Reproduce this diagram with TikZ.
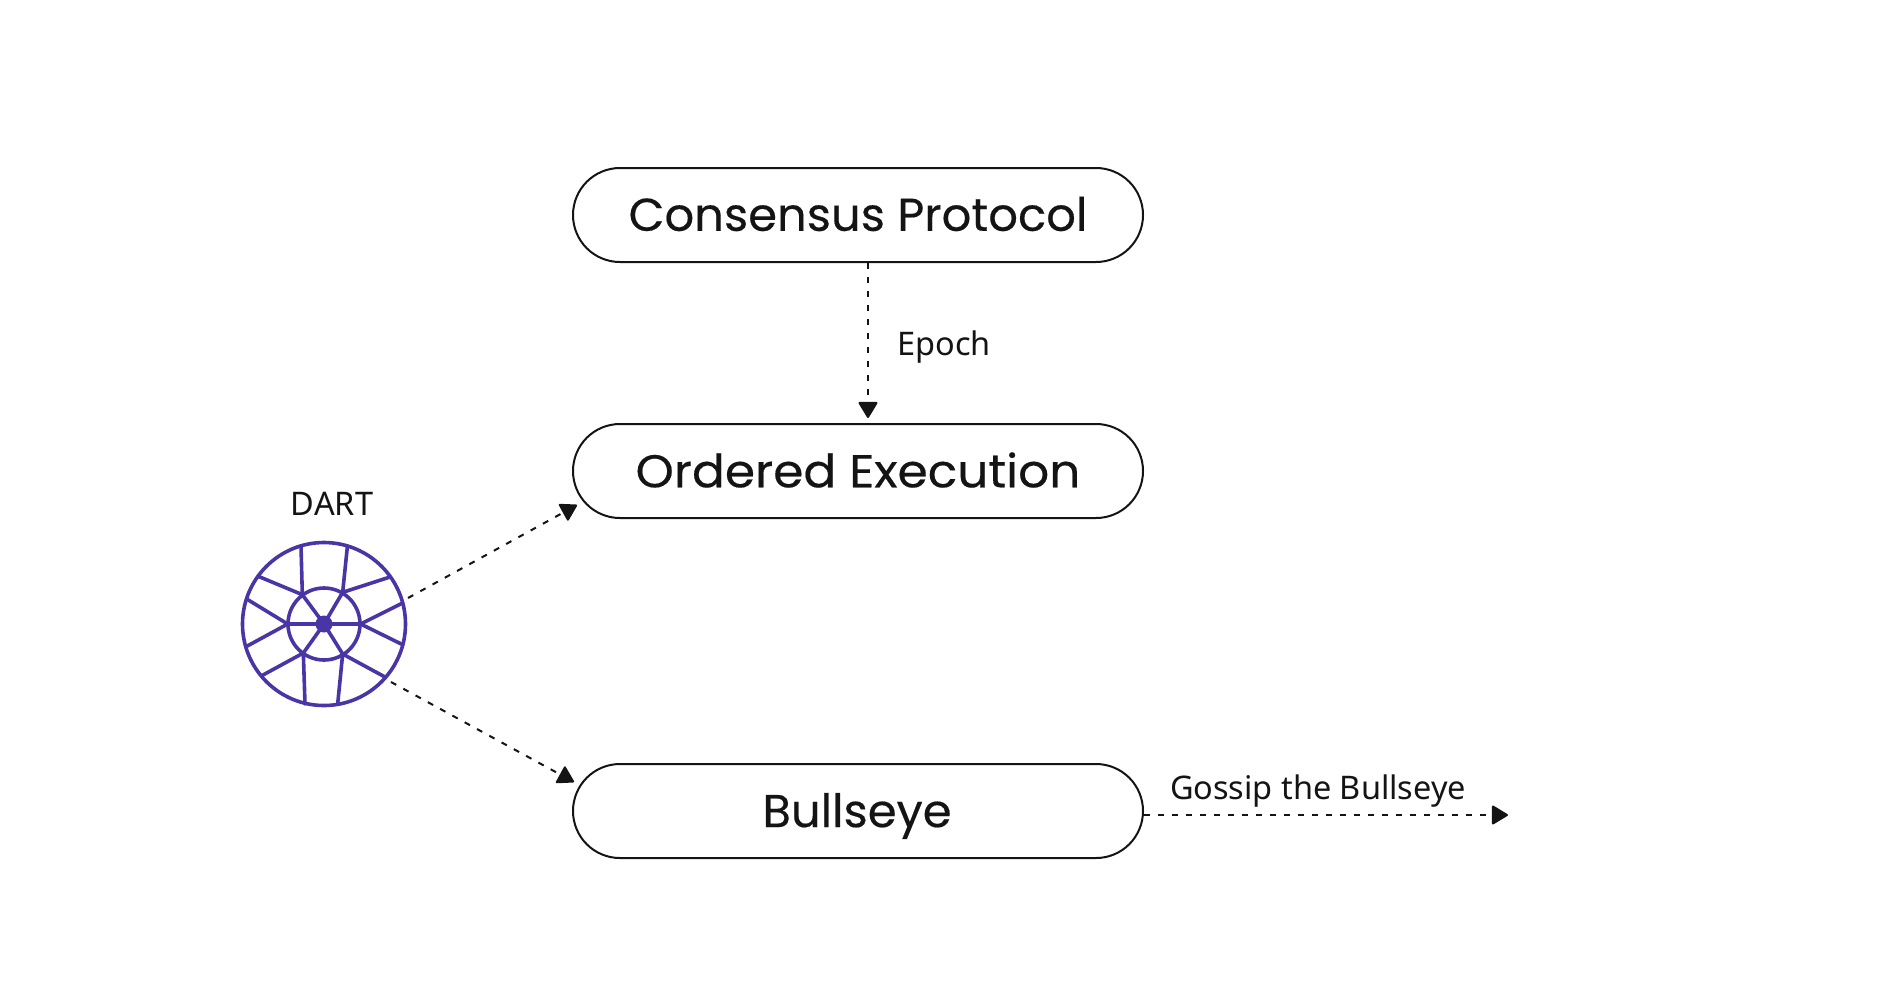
\documentclass[tikz,border=0pt]{standalone}
\usepackage{fontspec}
\setmainfont{Noto Sans}
\newfontfamily\headfont[FakeBold=0.35]{Poppins}
\usetikzlibrary{arrows.meta}
\definecolor{ink}{HTML}{141414}
\definecolor{dartblue}{HTML}{4A35A6}
\tikzset{
  x=1pt,y=-1pt,
  pill/.style={draw=ink,line width=2pt,rounded corners=47pt,minimum width=570pt,minimum height=94pt,inner sep=0pt},
  head/.style={font=\headfont\fontsize{46}{50}\selectfont,text=ink,inner sep=0pt},
  lbl/.style={font=\fontsize{32.5}{38}\selectfont,text=ink,inner sep=0pt},
  flow/.style={draw=ink,line width=2pt,dash pattern=on 6pt off 8pt,-{Triangle[length=17pt,width=20pt,round]}},
  spoke/.style={draw=dartblue,line width=3.6pt,line cap=round},
}
\begin{document}
\begin{tikzpicture}
\useasboundingbox (0,0) rectangle (1887,1005);
\node[pill] (cp) at (858,215) {};
\node[pill] (oe) at (858,471) {};
\node[pill] (be) at (858,811) {};
\node[head] (cpt) at (858,214) {\scalebox{1.01}[1]{Consensus Protocol}};
\node[head] (oet) at (858,470) {\scalebox{1.058}[1]{Ordered Execution}};
\node[head] (bet) at (857,816) {\scalebox{1.01}[1]{Bullseye}};
\node[lbl] (ep) at (944,347.5) {Epoch};
\node[lbl] (da) at (332,504) {DART};
\node[lbl] (go) at (1318,791.5) {Gossip the Bullseye};
% dart icon
\node[circle,draw=dartblue,line width=3.6pt,minimum size=163pt,inner sep=0pt] (dart) at (324,624) {};
\node[circle,draw=dartblue,line width=3.6pt,minimum size=72pt,inner sep=0pt] (hubring) at (324,624) {};
\node[circle,fill=dartblue,minimum size=17pt,inner sep=0pt] (hub) at (324,624) {};
\begin{scope}[shift={(324,624)},x=0.3333pt,y=-0.3333pt]
\foreach \ix/\iy/\ax/\ay/\bx/\by in {
 -65/-88/-69/-233/-197/-143,
 56/-95/70/-231/198/-141,
 110/0/236/-63/236/62,
 56/90/183/159/41/240,
 -62/87/-57/240/-185/154,
 -109/0/-232/-75/-232/67}{
  \draw[spoke] (0,0) -- (\ix,\iy);
  \draw[spoke] (\ax,\ay) -- (\ix,\iy) -- (\bx,\by);
}
\end{scope}
% free ends
\coordinate (d1s) at (408,598);
\coordinate (d1e) at (577,505);
\coordinate (d2s) at (391,682);
\coordinate (d2e) at (574,782);
\coordinate (eps) at (868,263);
\coordinate (epe) at (868,418);
\coordinate (gos) at (1144,815);
\coordinate (goe) at (1508,815);
\draw[flow] (eps) -- (epe);
\draw[flow] (d1s) -- (d1e);
\draw[flow] (d2s) -- (d2e);
\draw[flow] (gos) -- (goe);
\end{tikzpicture}
\end{document}
